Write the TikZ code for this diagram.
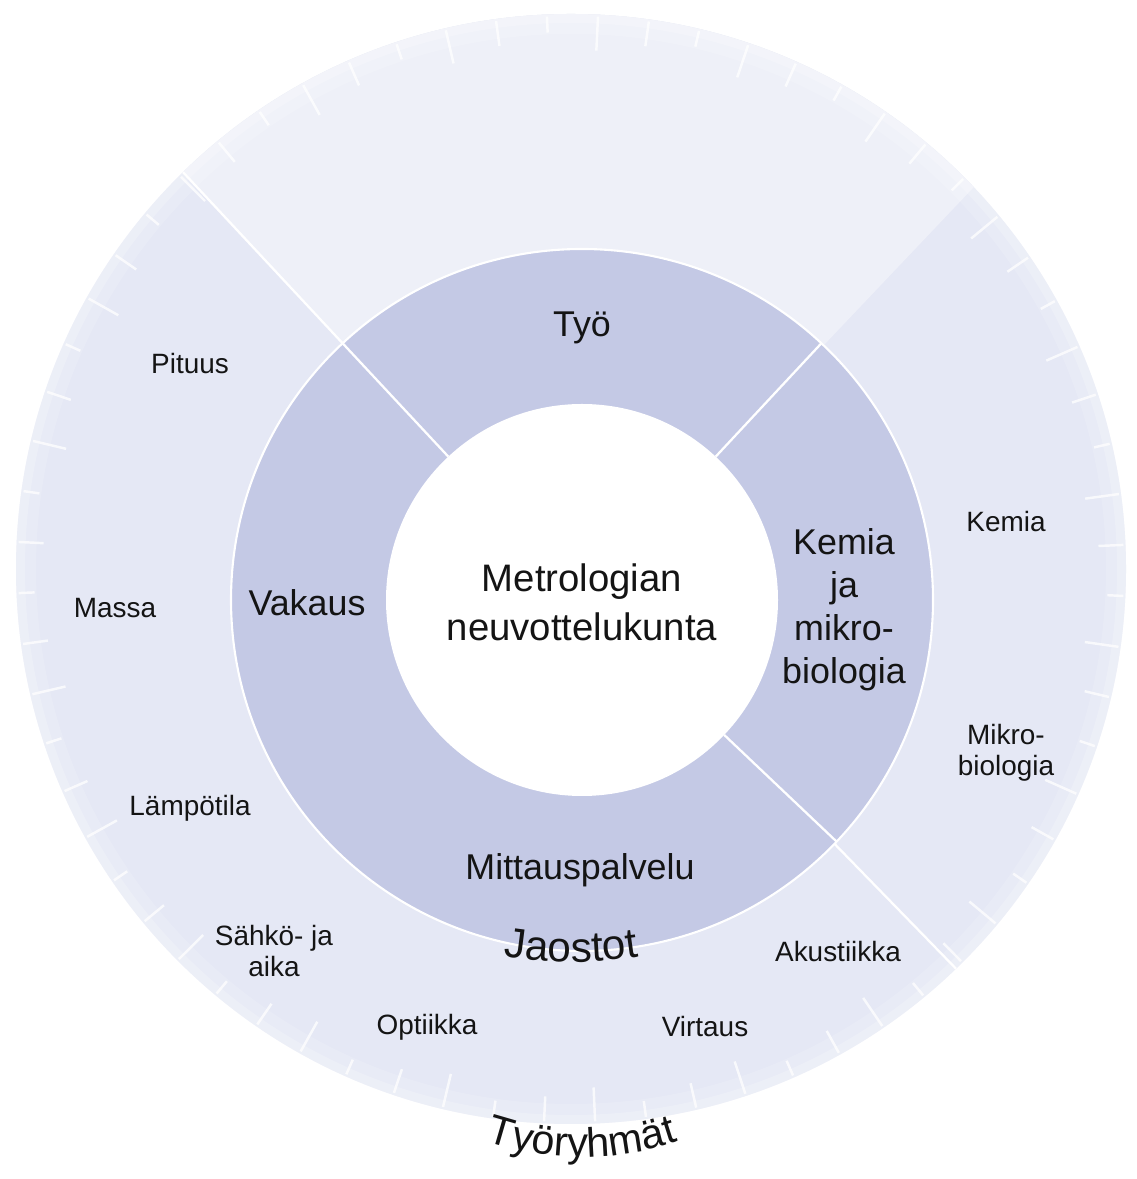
\documentclass[tikz,border=0pt]{standalone}
\usepackage{fontspec}
\setmainfont{Liberation Sans}
\usetikzlibrary{calc}
\definecolor{ringmid}{HTML}{C4C9E5}
\definecolor{ringout}{HTML}{E5E8F5}
\definecolor{ringtop}{HTML}{EEF0F8}
\definecolor{txt}{HTML}{141414}
\begin{document}
\begin{tikzpicture}[x=0.02cm,y=0.02cm,
  small/.style={font=\fontsize{15.9}{17.5}\selectfont, text=txt, align=center, inner sep=0pt},
  mid/.style={font=\fontsize{20.4}{24.4}\selectfont, text=txt, align=center, inner sep=0pt},
  centre/.style={font=\fontsize{21.8}{27.8}\selectfont, text=txt, align=center, inner sep=0pt},
  jletter/.style={font=\fontsize{24}{24}\selectfont, text=txt, inner sep=0pt, anchor=base},
  tletter/.style={font=\fontsize{23.5}{23.5}\selectfont, text=txt, inner sep=0pt, anchor=base},
  divider/.style={white, line width=1.3pt},
  tickmark/.style={white, line width=1.4pt, opacity=0.75}]
\useasboundingbox (0,0) rectangle (1136,1179);
\fill[white] (0,0) rectangle (1136,1179);
\coordinate (O) at (571,610);
\coordinate (M) at (582,579);
% outer ring (Työryhmät)
\fill[ringout] (O) circle (555);
\begin{scope}
  \clip (O) circle (555);
  \fill[ringtop] (M) -- ($(M)+(46.5:900)$) -- ($(M)+(133:900)$) -- cycle;
  \draw[divider] ($(M)+(133:351)$) -- ($(M)+(133:800)$);
  \draw[divider] ($(M)+(-44:351)$) -- ($(M)+(-45:800)$);
\end{scope}
\fill[white, opacity=0.15, even odd rule] (O) circle (555) (O) circle (535);
\fill[white, opacity=0.2, even odd rule] (O) circle (555) (O) circle (546);
\foreach \k in {0,...,67}{
  \pgfmathsetmacro\a{182.5+5.294*\k}
  \pgfmathsetmacro\l{555-18-9*mod(\k,3)}
  \draw[tickmark] ($(O)+(\a:553)$) -- ($(O)+(\a:\l)$);
}
% middle ring (Jaostot)
\fill[ringmid] (M) circle (351);
\draw[white, line width=1.2pt] (M) circle (351);
\fill[white] (M) circle (196);
\draw[divider] ($(M)+(133:196)$) -- ($(M)+(133:351)$);
\draw[divider] ($(M)+(47:196)$) -- ($(M)+(47:351)$);
\draw[divider] ($(M)+(-43.5:196)$) -- ($(M)+(-43.5:351)$);
% labels
\node[centre] (nk) at (582,577) {Metrologian\\neuvottelukunta};
\node[mid] (tyo) at (582,851) {Työ};
\node[mid] (vakaus) at (307,576) {Vakaus};
\node[mid] (kjm) at (844,569) {Kemia\\ja\\mikro-\\biologia};
\node[mid] (mitt) at (580,309) {Mittauspalvelu};
\node[small] (pituus) at (190,815) {Pituus};
\node[small] (massa) at (115,571) {Massa};
\node[small] (lampo) at (190,371) {Lämpötila};
\node[small] (sahko) at (274,228) {Sähkö- ja\\aika};
\node[small] (opt) at (427,152) {Optiikka};
\node[small] (virt) at (705,152) {Virtaus};
\node[small] (akust) at (838,227) {Akustiikka};
\node[small] (mikro) at (1006,426) {Mikro-\\biologia};
\node[small] (kemiao) at (1006,657) {Kemia};
% curved title "Jaostot"
\coordinate (JC) at (571,667);
\foreach \ch/\ang [count=\i] in {J/262.67, a/265.51, o/268.50, s/271.35, t/273.44, o/275.69, t/277.93}{
  \node[jletter, rotate=\ang-270] (jao\i) at ($(JC)+(\ang:450)$) {\ch};
}
% curved title "Työryhmät"
\coordinate (TC) at (582,322);
\foreach \ch/\ang [count=\i] in {T/253.74, y/258.12, ö/262.30, r/265.82, y/269.12, h/273.29, m/278.79, ä/284.27, t/287.57}{
  \node[tletter, rotate=\ang-270] (tyr\i) at ($(TC)+(\ang:300)$) {\ch};
}
\end{tikzpicture}
\end{document}
